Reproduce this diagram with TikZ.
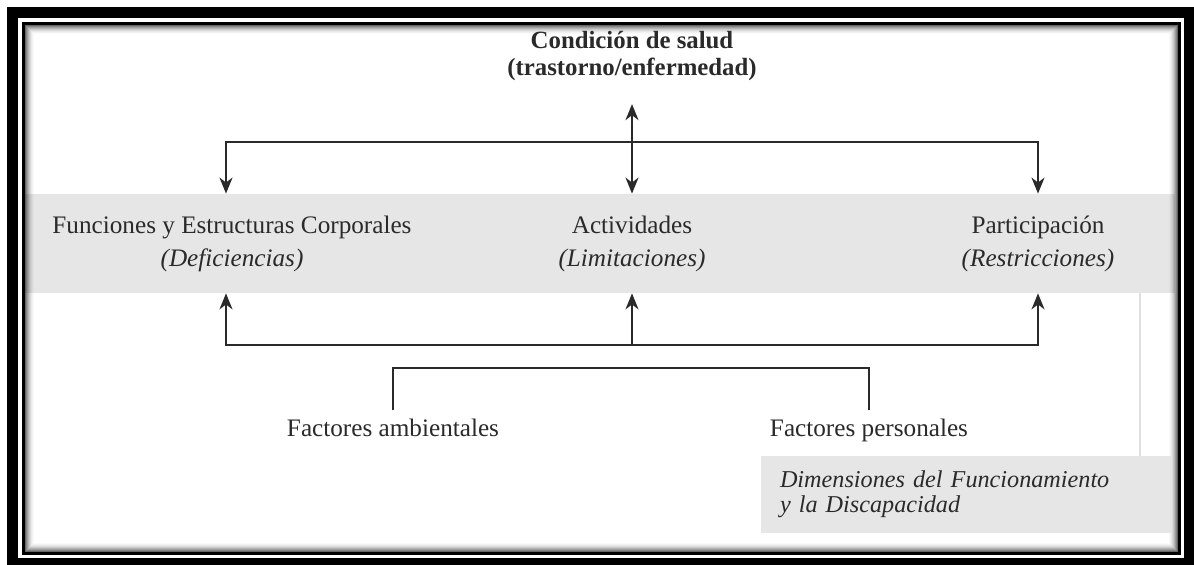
\documentclass[tikz,border=0pt]{standalone}
\usepackage{fontspec}
\setmainfont{Liberation Serif}
\usetikzlibrary{arrows.meta}
\usetikzlibrary{positioning}
\definecolor{bandgray}{HTML}{E6E6E7}
\definecolor{inkgray}{HTML}{2A2A2A}
\tikzset{
  link/.style={draw=inkgray, line width=1pt},
  arr/.style={link, -{Stealth[length=8pt,width=6.5pt,inset=2.5pt]}},
  biarr/.style={link, {Stealth[length=8pt,width=6.5pt,inset=2.5pt]}-{Stealth[length=8pt,width=6.5pt,inset=2.5pt]}},
  headnode/.style={align=center, inner xsep=0pt, inner ysep=11.5pt, text=inkgray, font=\fontsize{12.4}{13.5}\selectfont\bfseries},
  colnode/.style={align=center, minimum height=49.5pt, inner sep=0pt, text=inkgray, font=\fontsize{12.6}{16.5}\selectfont},
  factnode/.style={inner xsep=0pt, inner ysep=4.5pt, text height=9pt, text depth=2.5pt, text=inkgray, font=\fontsize{12.6}{15}\selectfont},
  dimbox/.style={fill=bandgray, align=left, text width=186.5pt, inner xsep=9.5pt, inner ysep=0pt,
    minimum height=38.5pt, text=inkgray, font=\fontsize{12.1}{12.7}\selectfont\itshape},
}
\begin{document}
\begin{tikzpicture}[x=0.5pt, y=-0.5pt]
  \useasboundingbox (0,0) rectangle (1194,565);
  % frame
  \fill[black] (7,7) rectangle (1194,565);
  \fill[white] (18,18) rectangle (1184,558);
  \fill[bandgray] (25,194) rectangle (1175,293);
  \draw[black, line width=1.5pt] (23.5,23.5) rectangle (1179.5,553.5);
  \foreach \i/\o in {0/0.6,1/0.48,2/0.38,3/0.29,4/0.21,5/0.14,6/0.09,7/0.05,8/0.02}
    \draw[black, opacity=\o, line width=0.5pt] (25.5+\i,25.5+\i) rectangle (1177.5-\i,551.5-\i);

  % nodes
  \node[headnode] (salud) at (632,56) {Condición de salud\\(trastorno/enfermedad)};
  \node[colnode] (funciones) at (232,243.5) {Funciones y Estructuras Corporales\\\textit{(Deficiencias)}};
  \node[colnode] (actividades) at (632,243.5) {Actividades\\\textit{(Limitaciones)}};
  \node[colnode] (participacion) at (1038,243.5) {Participación\\\textit{(Restricciones)}};
  \node[factnode] (ambientales) at (393,430.5) {Factores ambientales};
  \node[factnode] (personales) at (869,430.5) {Factores personales};
  \node[dimbox] (dimensiones) at (966.5,494.5) {\vphantom{X}\smash{Dimensiones del Funcionamiento}\\y la Discapacidad};

  \coordinate (hubtop) at (632,142);
  \coordinate (hubbot) at (632,345);
  \coordinate (bracket) at (632,368);
  \coordinate (edge) at (1140,293);

  % connectors
  \draw[arr] (hubtop) -| ([xshift=-3pt]funciones.north);
  \draw[arr] (hubtop) -| (participacion.north);
  \draw[biarr] (salud.south) -- (actividades.north);
  \draw[arr] (hubbot) -| ([xshift=-3pt]funciones.south);
  \draw[arr] (hubbot) -| (participacion.south);
  \draw[arr] (hubbot) -- (actividades.south);
  \draw[link] (ambientales.north) |- (bracket) -| (personales.north);
  \draw[draw=black!12, line width=1pt] (edge) -- (edge |- dimensiones.north);
\end{tikzpicture}
\end{document}
